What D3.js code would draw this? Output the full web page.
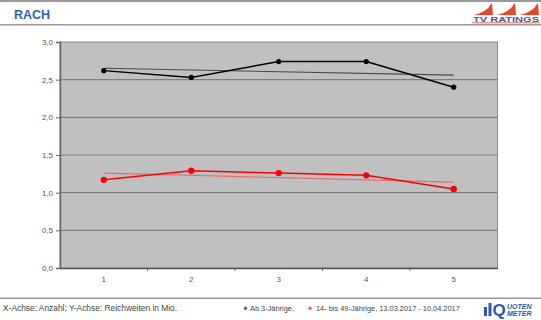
<!DOCTYPE html>
<html>
<head>
<meta charset="utf-8">
<script src="https://cdn.jsdelivr.net/npm/d3@7"></script>
<style>
  body { margin: 0; background: #fff; }
  text { font-family: "Liberation Sans", Arial, sans-serif; }
</style>
</head>
<body>
<svg id="chart"></svg>
<script>
// Set up the SVG dimensions
const width = 541;
const height = 320;

// chart data
const categories = ["1", "2", "3", "4", "5"];
const ab3 = [2.62, 2.53, 2.74, 2.74, 2.40];
const age1449 = [1.17, 1.29, 1.26, 1.23, 1.05];
const yTicks = [0, 0.5, 1, 1.5, 2, 2.5, 3];

const BLUE = "#2b65a8";
const PLOT_BG = "#c0c0c0";
const GRID = "#7f7f7f";
const LABEL = "#555";

const svg = d3.select("#chart")
  .attr("width", width)
  .attr("height", height);

// header
svg.append("rect").attr("x", 0).attr("y", 0).attr("width", width).attr("height", 2).attr("fill", "#999");
svg.append("rect").attr("x", 0).attr("y", 24).attr("width", width).attr("height", 1.5).attr("fill", "#999");
svg.append("text").attr("x", 14).attr("y", 18.5)
  .attr("font-size", 12.5).attr("font-weight", "bold").attr("fill", BLUE).text("RACH");

// TV RATINGS logo
const logo = svg.append("g").attr("transform", "translate(472,3)");
[0, 23, 46].forEach(dx => {
  logo.append("path")
    .attr("d", `M${dx + 1},12 Q${dx + 14},10 ${dx + 20},0 L${dx + 21},12 Z`)
    .attr("fill", "#e8452c");
});
logo.append("text").attr("x", 1).attr("y", 18.8)
  .attr("font-size", 7).attr("font-weight", "bold").attr("fill", "#445c9a")
  .attr("textLength", 66).attr("lengthAdjust", "spacingAndGlyphs")
  .text("TV RATINGS");
logo.append("line").attr("x1", 0).attr("x2", 68).attr("y1", 19.8).attr("y2", 19.8)
  .attr("stroke", "#e8452c").attr("stroke-width", 0.8);

// plot area
const margin = { left: 60, right: 497.5, top: 42, bottom: 268 };

const x = d3.scaleBand().domain(categories).range([margin.left, margin.right]);
const y = d3.scaleLinear().domain([0, 3]).range([margin.bottom, margin.top]);

svg.append("rect")
  .attr("x", margin.left).attr("y", margin.top)
  .attr("width", margin.right - margin.left).attr("height", margin.bottom - margin.top)
  .attr("fill", PLOT_BG).attr("stroke", "#8a8a8a").attr("stroke-width", 1);

// gridlines
svg.append("g")
  .selectAll("line")
  .data(yTicks.filter(d => d > 0 && d < 3))
  .enter()
  .append("line")
  .attr("x1", margin.left).attr("x2", margin.right)
  .attr("y1", d => y(d)).attr("y2", d => y(d))
  .attr("stroke", GRID).attr("stroke-width", 1.2);

// y axis
const yAxis = svg.append("g")
  .attr("transform", `translate(${margin.left},0)`)
  .call(d3.axisLeft(y).tickValues(yTicks).tickSize(4)
    .tickFormat(d => d3.format(".1f")(d).replace(".", ",")));
yAxis.select(".domain").attr("stroke", "#666").attr("stroke-width", 1.5);
yAxis.selectAll(".tick line").attr("stroke", "#666");
yAxis.selectAll(".tick text").attr("fill", LABEL).attr("font-size", 8)
  .attr("font-family", "Liberation Sans, Arial, sans-serif");

// x axis
const xAxis = svg.append("g")
  .attr("transform", `translate(0,${margin.bottom})`)
  .call(d3.axisBottom(x).tickSize(0).tickPadding(8));
xAxis.select(".domain").attr("stroke", "#555").attr("stroke-width", 1.5);
xAxis.selectAll(".tick text").attr("fill", LABEL).attr("font-size", 8)
  .attr("font-family", "Liberation Sans, Arial, sans-serif");
// category boundary ticks
svg.append("g")
  .selectAll("line")
  .data(categories.slice(1))
  .enter()
  .append("line")
  .attr("x1", d => x(d)).attr("x2", d => x(d))
  .attr("y1", margin.bottom).attr("y2", margin.bottom + 3)
  .attr("stroke", "#666");

const cx = d => x(d) + x.bandwidth() / 2;

// linear trend from the data
function trend(values) {
  const xs = values.map((_, i) => i + 1);
  const mx = d3.mean(xs), my = d3.mean(values);
  const slope = d3.sum(xs, (xv, i) => (xv - mx) * (values[i] - my)) / d3.sum(xs, xv => (xv - mx) ** 2);
  return xv => my + slope * (xv - mx);
}

function drawSeries(values, color, trendColor, r) {
  const t = trend(values);
  const ends = [categories[0], categories[categories.length - 1]];
  svg.append("line")
    .attr("x1", cx(ends[0])).attr("x2", cx(ends[1]))
    .attr("y1", y(t(1))).attr("y2", y(t(categories.length)))
    .attr("stroke", trendColor).attr("stroke-width", 1.1);

  const line = d3.line().x((d, i) => cx(categories[i])).y(d => y(d));
  svg.append("path")
    .datum(values)
    .attr("d", line)
    .attr("fill", "none")
    .attr("stroke", color)
    .attr("stroke-width", 1.5);

  svg.append("g")
    .selectAll("circle")
    .data(values)
    .enter()
    .append("circle")
    .attr("cx", (d, i) => cx(categories[i]))
    .attr("cy", d => y(d))
    .attr("r", r)
    .attr("fill", color);
}

drawSeries(ab3, "#000", "#4a4a4a", 2.6);
drawSeries(age1449, "#ff0000", "#e86a6a", 3.2);

// footer
svg.append("rect").attr("x", 0).attr("y", 297.5).attr("width", width).attr("height", 1.5).attr("fill", "#999");
svg.append("text").attr("x", 3).attr("y", 311)
  .attr("font-size", 8.4).attr("fill", "#444")
  .text("X-Achse: Anzahl; Y-Achse: Reichweiten in Mio.");

svg.append("circle").attr("cx", 245.5).attr("cy", 308.3).attr("r", 1.7).attr("fill", "#666");
svg.append("text").attr("x", 250).attr("y", 311)
  .attr("font-size", 7.4).attr("fill", "#444").text("Ab 3-Jährige,");
svg.append("circle").attr("cx", 310).attr("cy", 308.3).attr("r", 1.7).attr("fill", "#f06060");
svg.append("text").attr("x", 316).attr("y", 311)
  .attr("font-size", 7.4).attr("fill", "#444").text("14- bis 49-Jährige, 13.03.2017 - 10.04.2017");

// Quotenmeter logo
const q = svg.append("g").attr("transform", "translate(484,301)");
q.append("rect").attr("x", 0).attr("y", 6).attr("width", 3).attr("height", 9).attr("fill", "#2a5ba8");
q.append("rect").attr("x", 4.5).attr("y", 2).attr("width", 3).attr("height", 13).attr("fill", "#2a5ba8");
q.append("text").attr("x", 8.5).attr("y", 14.5)
  .attr("font-size", 17).attr("font-weight", "bold").attr("fill", "#2a5ba8").text("Q");
q.append("text").attr("x", 23).attr("y", 7.5)
  .attr("font-size", 7).attr("font-weight", "bold").attr("font-style", "italic")
  .attr("fill", "#2a5ba8").text("UOTEN");
q.append("text").attr("x", 23).attr("y", 15)
  .attr("font-size", 7).attr("font-weight", "bold").attr("font-style", "italic")
  .attr("fill", "#2a5ba8").text("METER");
</script>
</body>
</html>
